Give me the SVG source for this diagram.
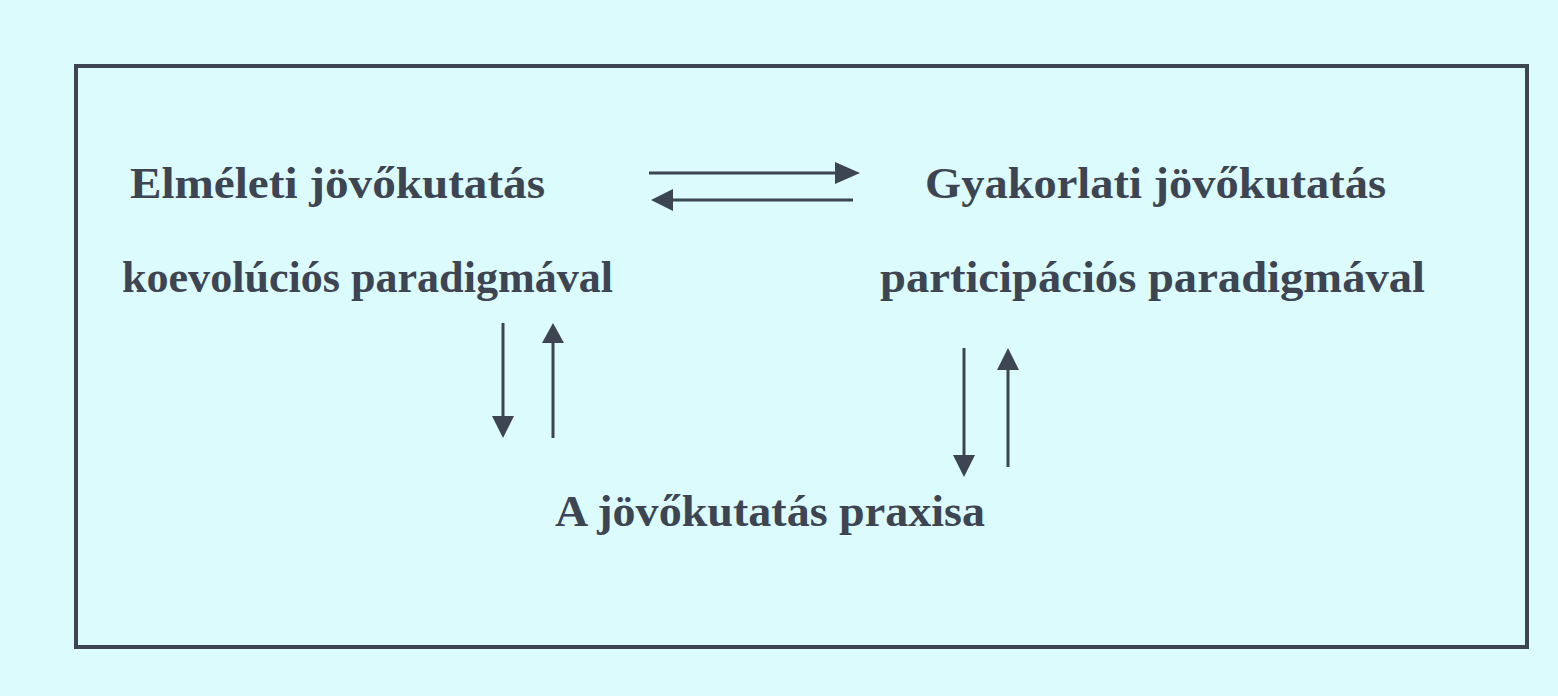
<svg xmlns="http://www.w3.org/2000/svg" width="1558" height="696" viewBox="0 0 1558 696">
<style>
.t{font-family:"Liberation Serif","Times New Roman",serif;font-weight:bold;font-size:45px;fill:#3d4452}
.c{stroke:#3d4452;stroke-width:3;fill:none}
.h{fill:#3d4452;stroke:none}
</style>
<rect width="1558" height="696" fill="#dcfbfd"/>
<rect x="76" y="66" width="1451" height="581" fill="none" stroke="#3d4452" stroke-width="4"/>
<g id="n1"><text class="t" x="130" y="198" textLength="415" lengthAdjust="spacingAndGlyphs">Elméleti jövőkutatás</text>
<text class="t" x="122" y="292" textLength="491" lengthAdjust="spacingAndGlyphs">koevolúciós paradigmával</text></g>
<g id="n2"><text class="t" x="925" y="198" textLength="461" lengthAdjust="spacingAndGlyphs">Gyakorlati jövőkutatás</text>
<text class="t" x="880" y="292" textLength="545" lengthAdjust="spacingAndGlyphs">participációs paradigmával</text></g>
<g id="n3"><text class="t" x="555" y="526" textLength="430" lengthAdjust="spacingAndGlyphs">A jövőkutatás praxisa</text></g>
<g id="connectors">
<line class="c" x1="649" y1="173" x2="837" y2="173"/>
<polygon class="h" points="835,162 860,173 835,184"/>
<line class="c" x1="853" y1="200" x2="671" y2="200"/>
<polygon class="h" points="673,189 651,200 673,211"/>
<line class="c" x1="503" y1="323" x2="503" y2="418"/>
<polygon class="h" points="492,416 514,416 503,438"/>
<line class="c" x1="553" y1="438" x2="553" y2="341"/>
<polygon class="h" points="542,343 564,343 553,323"/>
<line class="c" x1="964" y1="348" x2="964" y2="457"/>
<polygon class="h" points="953,455 975,455 964,477"/>
<line class="c" x1="1008" y1="467" x2="1008" y2="368"/>
<polygon class="h" points="997,370 1019,370 1008,348"/>
</g>
</svg>
